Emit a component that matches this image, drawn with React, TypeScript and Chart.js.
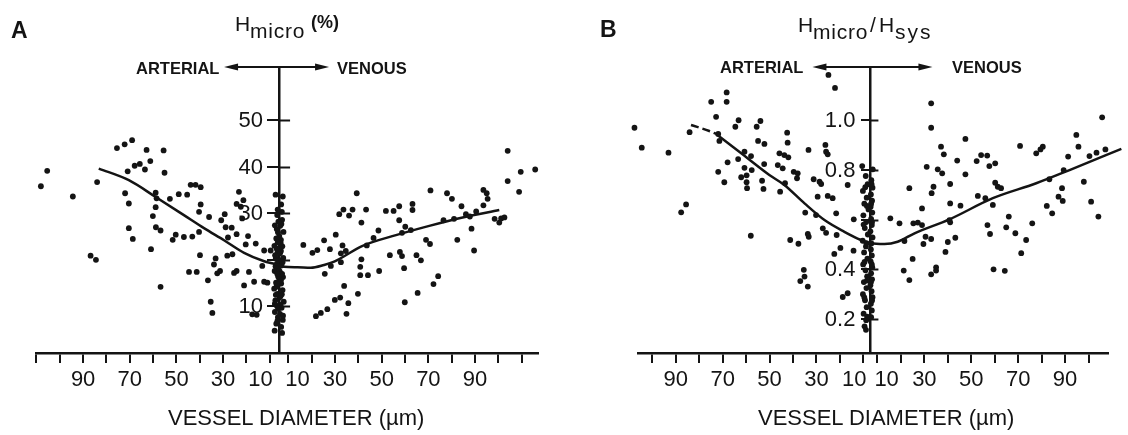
import React, { useEffect, useRef } from 'react';
import { Chart, registerables } from 'chart.js';

Chart.register(...registerables);

const INK = '#141414';
const FONT = '"Liberation Sans", Arial, Helvetica, sans-serif';

// ---------- Panel A : H_micro (%) vs vessel diameter (µm) ----------
const A_ARTERIAL: [number, number][] = [
  [105.4, 39.1], [108.1, 35.8], [94.4, 33.6], [84, 36.7], [86.8, 20.9], [84.5, 20.0], [75.5, 44.0], [72.2, 44.8],
  [69, 45.7], [62.8, 43.6], [55.5, 43.5], [70.9, 39.0], [67.9, 40.2], [65.7, 40.6], [63.5, 39.4], [61.2, 41.2],
  [55.1, 38.7], [72, 34.3], [70.4, 32.1], [70.4, 26.8], [68.7, 24.5], [58.9, 34.4], [58.5, 33.2], [58.9, 31.3],
  [60.1, 29.4], [58.8, 27.0], [56.8, 26.3], [60.9, 22.3], [56.8, 14.2], [52.8, 33.1], [49, 34.1], [45.4, 34.0],
  [50.3, 25.4], [51.6, 24.3], [46.8, 24.9], [44.6, 17.4], [43.9, 36.1], [41.8, 36.1], [39.6, 35.6], [39.6, 31.9],
  [40.3, 30.3], [36, 29.2], [43.2, 25.0], [40.3, 26.0], [39.9, 21.0], [33.2, 20.3], [33.9, 19.0], [41.3, 17.4],
  [36.5, 15.6], [35.3, 11.0], [34.6, 8.6], [32.5, 17.1], [31.3, 17.6], [30.8, 28.5], [29.3, 29.8], [28.9, 27.0],
  [26.3, 26.9], [27.9, 24.8], [24.2, 25.5], [23.2, 34.6], [21.3, 32.8], [24.2, 32.0], [22.4, 31.4], [21.8, 28.9],
  [28.2, 20.9], [26, 21.2], [25.3, 17.2], [24.2, 17.6], [21, 14.5], [18.9, 17.4], [19.3, 25.1], [20.3, 23.3],
  [16, 23.5], [12.4, 22.0], [9.6, 22.0], [13.2, 18.7], [16.7, 15.3], [12.4, 15.3], [11, 15.1], [17.5, 8.3],
  [15.6, 8.2],
];
const A_VENOUS: [number, number][] = [
  [16.4, 23.2], [20.3, 21.5], [22.4, 22.1], [25.3, 24.2], [27.8, 22.3], [25.6, 17.0], [21.8, 7.9], [23.9, 8.6],
  [26.7, 9.4], [39.3, 34.3], [33.6, 30.8], [31.8, 29.8], [36, 29.5], [37.5, 30.8], [43.3, 30.8], [41.3, 28.0],
  [30.3, 25.4], [33.2, 23.1], [34.6, 21.9], [32.5, 21.4], [28.2, 18.7], [32.5, 19.5], [43.6, 23.1], [46.5, 24.7],
  [48.6, 26.3], [41.3, 20.1], [40.8, 18.5], [40.8, 16.7], [44.1, 16.7], [48.9, 17.6], [33.9, 14.4], [32.2, 11.9],
  [29.9, 11.4], [35.7, 10.7], [34.9, 8.4], [39.8, 12.7], [51.8, 30.5], [55.1, 30.5], [57.5, 31.5], [57.5, 28.5],
  [60.1, 27.1], [62.5, 26.4], [58.7, 25.8], [63.2, 32.0], [63.2, 30.7], [53.5, 21.0], [57.8, 21.7], [58.7, 20.8],
  [59.6, 18.2], [64.9, 21.0], [66.8, 19.9], [65.4, 12.9], [59.9, 10.9], [70.9, 34.9], [69, 24.3], [70.7, 23.4],
  [72.2, 14.8], [74.2, 16.5], [78, 34.3], [80.1, 33.1], [84.2, 31.5], [76.5, 28.5], [81, 28.8], [82.4, 24.3],
  [86.1, 29.8], [87.8, 29.3], [88.5, 26.7], [89.6, 22.0], [90.5, 30.4], [93.6, 31.7], [93.6, 35.0], [95, 34.3],
  [95.4, 33.1], [98.4, 28.8], [100.4, 28.0], [101.2, 28.9], [102.6, 29.1], [104, 36.9], [104, 43.4], [109.6, 38.9],
  [115.8, 39.4], [108.9, 34.6],
];
// smallest vessels (capillary column at the centre)
const A_CAP_ART: [number, number][] = [
  [7.5, 34.0], [6.8, 29.6], [7.8, 27.4], [6.5, 25.9], [7.2, 24.6], [8.0, 23.0], [6.6, 21.7], [7.4, 20.3],
  [6.9, 19.2], [7.9, 17.6], [6.4, 16.4], [7.3, 15.1], [8.1, 13.8], [6.7, 12.7], [7.6, 11.3], [6.9, 10.1],
  [7.8, 8.8], [6.5, 7.7], [7.2, 6.3], [7.9, 4.8], [6.3, 28.2], [7.0, 22.4], [6.2, 18.3], [7.1, 14.2], [6.4, 9.5],
  [6.6, 30.8], [7.7, 21.0], [6.8, 17.0], [7.4, 12.5], [6.7, 6.9], [7.0, 26.6], [7.5, 18.6], [6.9, 14.8],
  [7.8, 10.6], [6.6, 23.7],
];
const A_CAP_VEN: [number, number][] = [
  [7.6, 33.6], [6.9, 31.9], [7.3, 28.6], [6.5, 27.3], [7.9, 26.0], [6.8, 24.3], [7.4, 22.9], [6.4, 21.4],
  [7.8, 20.4], [7.0, 18.8], [6.3, 17.5], [7.7, 16.3], [6.9, 14.9], [7.5, 13.5], [6.6, 12.2], [8.0, 11.0],
  [7.1, 9.7], [6.4, 8.4], [7.6, 7.1], [6.9, 5.6], [7.3, 4.3], [6.1, 25.1], [6.2, 19.9], [6.1, 15.8], [6.2, 11.9],
  [7.2, 30.3], [6.7, 23.6], [7.5, 19.5], [6.8, 15.6], [7.2, 12.6], [6.6, 10.3], [7.7, 8.0], [7.0, 27.7],
  [6.8, 21.9], [7.3, 17.0],
];
const A_FIT_ART: [number, number][] = [
  [83.3, 39.6], [70.4, 37.1], [58.9, 33.5], [46.8, 29.6], [38.2, 26.8], [29.6, 24.2], [21, 21.5], [12.4, 19.7], [6, 18.9],
];
const A_FIT_VEN: [number, number][] = [
  [8.1, 18.5], [13.9, 18.4], [19.6, 18.3], [25.3, 18.9], [29.6, 19.6], [41.8, 23.0], [56.1, 25.3], [70.4, 27.3],
  [84.7, 29.1], [100.4, 30.7],
];
const A_Y_TICKS = [10, 20, 30, 40, 50];
const A_Y_LABELS = ['10', '', '30', '40', '50'];
const A_X_TICKS = [10, 20, 30, 40, 50, 60, 70, 80, 90, 100, 110];

// ---------- Panel B : H_micro / H_sys vs vessel diameter (µm) ----------
const B_ARTERIAL: [number, number][] = [
  [107.6, 0.969], [104.5, 0.889], [93.1, 0.869], [87.7, 0.629], [85.6, 0.661], [84.1, 0.951], [74.9, 1.073], [68.3, 1.111],
  [68.3, 1.073], [72.8, 1.013], [71.9, 0.944], [71.4, 0.916], [63.2, 0.999], [64.6, 0.973], [53.9, 0.996], [55.5, 0.973],
  [54.9, 0.916], [52.2, 0.904], [67.9, 0.830], [63.4, 0.843], [71.9, 0.792], [69.3, 0.750], [60.7, 0.873], [57.9, 0.855],
  [60.7, 0.808], [57.6, 0.799], [62.1, 0.770], [59.8, 0.778], [59.8, 0.750], [59.6, 0.726], [52.3, 0.823], [53.2, 0.756],
  [52.6, 0.723], [58, 0.535], [24.9, 1.181], [22.1, 1.129], [42.5, 0.949], [42.3, 0.909], [45.8, 0.866], [43.7, 0.859],
  [42, 0.850], [46.5, 0.819], [44.4, 0.806], [39.7, 0.792], [38, 0.786], [38.3, 0.766], [33.4, 0.880], [26.2, 0.900],
  [25.9, 0.873], [25.2, 0.862], [31.2, 0.762], [28.7, 0.752], [28, 0.743], [43.4, 0.746], [45.5, 0.712], [29.5, 0.692],
  [25.2, 0.695], [23.1, 0.686], [16.7, 0.739], [34.8, 0.628], [30.2, 0.618], [27.3, 0.565], [25.9, 0.547], [21.6, 0.625],
  [21.4, 0.538], [33.7, 0.542], [33.3, 0.531], [41.2, 0.518], [37.7, 0.503], [19.8, 0.486], [14.2, 0.475], [22.4, 0.462],
  [35.4, 0.398], [35.1, 0.371], [36.9, 0.353], [33.7, 0.331], [18.8, 0.289], [16.7, 0.304], [14.1, 0.601],
];
const B_VENOUS: [number, number][] = [
  [32.9, 1.067], [32.9, 0.969], [47.5, 0.924], [37.1, 0.893], [38.3, 0.862], [31, 0.812], [35.7, 0.802], [37.6, 0.786],
  [44, 0.837], [47.5, 0.782], [52.3, 0.835], [54.2, 0.859], [56.8, 0.857], [57.7, 0.815], [60.2, 0.826], [70.8, 0.896],
  [77.7, 0.866], [79.5, 0.882], [80.5, 0.893], [91.3, 0.853], [23.6, 0.726], [33.9, 0.732], [33.1, 0.706], [41, 0.743],
  [29, 0.645], [25.3, 0.585], [27.2, 0.588], [29, 0.578], [41, 0.665], [45.4, 0.656], [40.7, 0.598], [41, 0.589],
  [52.8, 0.695], [56, 0.686], [59.2, 0.659], [60.2, 0.748], [61.3, 0.732], [62.7, 0.726], [56.9, 0.578], [58, 0.542],
  [66, 0.612], [64.9, 0.569], [68.8, 0.545], [76, 0.585], [73.4, 0.518], [71.3, 0.465], [30.5, 0.531], [32.9, 0.522],
  [29.6, 0.502], [40, 0.510], [43.2, 0.527], [39, 0.470], [25, 0.442], [23.6, 0.357], [32.9, 0.380], [35, 0.395],
  [35, 0.408], [59.5, 0.400], [64.3, 0.394], [83.3, 0.762], [88.7, 0.726], [87.2, 0.692], [89, 0.675], [82.2, 0.655],
  [84.5, 0.625], [15.5, 0.605], [19.4, 0.585], [21.5, 0.514], [21.2, 0.395], [105.8, 1.011], [94.8, 0.940], [95.7, 0.893],
  [100.4, 0.855], [103.4, 0.869], [107.2, 0.882], [110.4, 0.873], [111.9, 0.812], [112.8, 0.752], [89.4, 0.799], [98, 0.752],
  [101.1, 0.672], [104.2, 0.612],
];
const B_CAP_ART: [number, number][] = [
  [10.5, 0.815], [9.0, 0.775], [8.2, 0.742], [10.2, 0.715], [8.6, 0.688], [9.6, 0.664], [7.8, 0.641], [10.0, 0.617],
  [8.8, 0.590], [9.4, 0.566], [8.1, 0.540], [10.3, 0.515], [8.9, 0.492], [9.7, 0.468], [8.3, 0.443], [10.1, 0.420],
  [9.1, 0.396], [8.4, 0.372], [9.8, 0.349], [8.7, 0.325], [10.2, 0.300], [9.3, 0.276], [8.6, 0.248], [9.9, 0.222],
  [8.8, 0.196], [9.5, 0.171], [8.9, 0.157], [9.2, 0.730], [8.5, 0.655], [9.9, 0.580], [8.7, 0.505], [9.5, 0.430],
  [8.5, 0.355], [9.6, 0.287], [8.4, 0.210],
];
const B_CAP_VEN: [number, number][] = [
  [8.0, 0.802], [7.4, 0.758], [7.9, 0.728], [7.2, 0.701], [7.7, 0.676], [7.1, 0.652], [7.8, 0.628], [7.3, 0.603],
  [7.6, 0.578], [7.0, 0.553], [7.9, 0.528], [7.2, 0.480], [7.6, 0.456], [7.1, 0.432], [7.8, 0.408], [7.3, 0.384],
  [7.7, 0.360], [7.0, 0.336], [7.5, 0.312], [7.9, 0.288], [7.2, 0.262], [7.6, 0.235], [7.3, 0.208], [7.5, 0.742],
  [7.3, 0.664], [7.7, 0.590], [7.4, 0.504], [7.6, 0.420], [7.2, 0.348], [7.7, 0.275],
];
const B_FIT_DASHED: [number, number][] = [[83.5, 0.980], [75.7, 0.956], [72.8, 0.944]];
const B_FIT_ART: [number, number][] = [
  [72.8, 0.944], [60.7, 0.856], [50.1, 0.779], [43.7, 0.739], [35.1, 0.665], [26.6, 0.598], [18.1, 0.551], [11, 0.518], [7, 0.505],
];
const B_FIT_VEN: [number, number][] = [
  [13, 0.502], [18.6, 0.511], [25.8, 0.545], [40.7, 0.601], [59.2, 0.686], [77.7, 0.746], [91.9, 0.799], [114, 0.884],
];
const B_Y_TICKS = [0.2, 0.4, 0.6, 0.8, 1.0];
const B_Y_LABELS = ['0.2', '0.4', '', '0.8', '1.0'];
const B_X_TICKS = [10, 20, 30, 40, 50, 60, 70, 80, 90, 100];

const X_LABELED = [10, 30, 50, 70, 90];

type Pair = [number, number];
type PanelCfg = {
  arterial: Pair[]; venous: Pair[]; capArt: Pair[]; capVen: Pair[];
  fitArt: Pair[]; fitVen: Pair[]; fitDashed?: Pair[];
  off: number; xMin: number; xMax: number; yMin: number; yMax: number;
  yTicks: number[]; yLabels: string[]; xTicks: number[];
  pad: { left: number; right: number; top: number; bottom: number };
  yTickLen: number; yTickPad: number; arrowL: number; arrowR: number;
};

const art = (p: Pair[], off: number) => p.map(([d, v]) => ({ x: -(d - off), y: v }));
const ven = (p: Pair[], off: number) => p.map(([d, v]) => ({ x: d - off, y: v }));
const fitLine = (a: Pair[], v: Pair[], off: number) =>
  [...art(a, off), ...ven(v, off)].sort((p, q) => p.x - q.x);

const PANEL_A: PanelCfg = {
  arterial: A_ARTERIAL, venous: A_VENOUS, capArt: A_CAP_ART, capVen: A_CAP_VEN,
  fitArt: A_FIT_ART, fitVen: A_FIT_VEN,
  off: 6, xMin: -104.2, xMax: 111.0, yMin: 0, yMax: 61.4,
  yTicks: A_Y_TICKS, yLabels: A_Y_LABELS, xTicks: A_X_TICKS,
  pad: { left: 36, right: 22, top: 67, bottom: 37.6 },
  yTickLen: 11, yTickPad: 5, arrowL: 55, arrowR: 50,
};
const PANEL_B: PanelCfg = {
  arterial: B_ARTERIAL, venous: B_VENOUS, capArt: B_CAP_ART, capVen: B_CAP_VEN,
  fitArt: B_FIT_ART, fitVen: B_FIT_VEN, fitDashed: B_FIT_DASHED,
  off: 7, xMin: -99.1, xMax: 101.3, yMin: 0.064, yMax: 1.213,
  yTicks: B_Y_TICKS, yLabels: B_Y_LABELS, xTicks: B_X_TICKS,
  pad: { left: 78, right: 20, top: 67, bottom: 37.6 },
  yTickLen: 8, yTickPad: 7, arrowL: 58, arrowR: 62,
};

const decorPlugin = {
  id: 'decor',
  afterDraw(chart: any, _args: any, opts: any) {
    const { ctx, chartArea, scales } = chart;
    const cx = scales.x.getPixelForValue(0);
    const top = chartArea.top;
    ctx.save();
    ctx.strokeStyle = INK;
    ctx.fillStyle = INK;
    ctx.lineWidth = 2.2;
    const xl = cx - opts.arrowL;
    const xr = cx + opts.arrowR;
    ctx.beginPath();
    ctx.moveTo(xl + 6, top);
    ctx.lineTo(xr - 6, top);
    ctx.stroke();
    ctx.beginPath();
    ctx.moveTo(xl, top);
    ctx.lineTo(xl + 14, top - 3.6);
    ctx.lineTo(xl + 14, top + 3.6);
    ctx.closePath();
    ctx.fill();
    ctx.beginPath();
    ctx.moveTo(xr, top);
    ctx.lineTo(xr - 14, top - 3.6);
    ctx.lineTo(xr - 14, top + 3.6);
    ctx.closePath();
    ctx.fill();
    // right halves of the y tick marks (ticks cross the axis)
    ctx.lineWidth = 2;
    ctx.beginPath();
    for (const v of opts.yTicks) {
      const py = Math.round(scales.y.getPixelForValue(v)) + 0.5;
      ctx.moveTo(cx, py);
      ctx.lineTo(cx + opts.yTickLen, py);
    }
    ctx.stroke();
    // y tick labels, to the left of the centre axis
    ctx.font = `22px ${FONT}`;
    ctx.textAlign = 'right';
    ctx.textBaseline = 'middle';
    opts.yTicks.forEach((v: number, i: number) => {
      const label = opts.yLabels[i];
      if (!label) return;
      const py = scales.y.getPixelForValue(v);
      ctx.fillText(label, cx - opts.yTickLen - opts.yTickPad, py + 1);
    });
    ctx.restore();
  },
};

function PanelChart({ cfg, left, width }: { cfg: PanelCfg; left: number; width: number }) {
  const ref = useRef<HTMLCanvasElement>(null);
  useEffect(() => {
    const off = cfg.off;
    const dot = {
      type: 'scatter' as const,
      pointRadius: 2.9,
      pointBackgroundColor: INK,
      pointBorderWidth: 0,
      showLine: false,
      clip: false as any,
    };
    const line = {
      type: 'line' as const,
      borderColor: INK,
      borderWidth: 2.5,
      pointRadius: 0,
      fill: false,
      cubicInterpolationMode: 'monotone' as const,
      clip: false as any,
    };
    const datasets: any[] = [
      { ...line, data: fitLine(cfg.fitArt, cfg.fitVen, off) },
      { ...dot, data: art(cfg.arterial, off) },
      { ...dot, data: ven(cfg.venous, off) },
      { ...dot, data: art(cfg.capArt, off) },
      { ...dot, data: ven(cfg.capVen, off) },
    ];
    if (cfg.fitDashed) {
      datasets.push({ ...line, borderDash: [8, 4], data: art(cfg.fitDashed, off).sort((p, q) => p.x - q.x) });
    }
    const xTickValues = [
      ...cfg.xTicks.map((d) => -(d - off)),
      ...cfg.xTicks.map((d) => d - off),
    ].sort((a, b) => a - b);

    const chart = new Chart(ref.current as HTMLCanvasElement, {
      type: 'scatter',
      data: { datasets },
      options: {
        animation: false,
        responsive: false,
        maintainAspectRatio: false,
        devicePixelRatio: 1,
        events: [],
        layout: { padding: cfg.pad },
        plugins: {
          legend: { display: false },
          tooltip: { enabled: false },
          decor: {
            arrowL: cfg.arrowL, arrowR: cfg.arrowR, yTicks: cfg.yTicks, yLabels: cfg.yLabels,
            yTickLen: cfg.yTickLen, yTickPad: cfg.yTickPad,
          },
        } as any,
        scales: {
          x: {
            type: 'linear',
            position: 'bottom',
            min: cfg.xMin,
            max: cfg.xMax,
            afterBuildTicks: (scale: any) => {
              scale.ticks = xTickValues.map((v) => ({ value: v }));
            },
            ticks: {
              autoSkip: false,
              maxRotation: 0,
              minRotation: 0,
              padding: 4,
              color: INK,
              font: { family: FONT, size: 22 },
              callback: (value: any) => {
                const v = Number(value);
                const d = Math.round(Math.abs(v) + off);
                if (!X_LABELED.includes(d)) return '';
                if (d === 10) return v < 0 ? '10   ' : '   10';
                return String(d);
              },
            },
            grid: { drawOnChartArea: false, drawTicks: true, tickLength: 10, tickWidth: 2, color: INK, lineWidth: 2 },
            border: { display: true, color: INK, width: 2.5 },
          },
          y: {
            type: 'linear',
            position: { x: 0 } as any,
            min: cfg.yMin,
            max: cfg.yMax,
            afterBuildTicks: (scale: any) => {
              scale.ticks = cfg.yTicks.map((v) => ({ value: v }));
            },
            ticks: { display: false, autoSkip: false },
            grid: { drawOnChartArea: false, drawTicks: true, tickLength: cfg.yTickLen, tickWidth: 2, color: INK, lineWidth: 2 },
            border: { display: true, color: INK, width: 2.5 },
          },
        },
      },
      plugins: [decorPlugin as any],
    } as any);
    return () => chart.destroy();
  }, [cfg]);
  return (
    <canvas
      ref={ref}
      width={width}
      height={435}
      style={{ position: 'absolute', left, top: 0, width, height: 435, display: 'block' }}
    />
  );
}

function Txt({ x, base, size, bold, italic, spacing, children }: {
  x: number; base: number; size: number; bold?: boolean; italic?: boolean; spacing?: number; children: React.ReactNode;
}) {
  return (
    <div
      style={{
        position: 'absolute',
        left: x,
        top: base - 0.8465 * size,
        fontFamily: FONT,
        fontSize: size,
        lineHeight: `${size}px`,
        fontWeight: bold ? 'bold' : 'normal',
        fontStyle: italic ? 'italic' : 'normal',
        letterSpacing: spacing ? `${spacing}px` : undefined,
        whiteSpace: 'nowrap',
        color: INK,
      }}
    >
      {children}
    </div>
  );
}

export default function App() {
  return (
    <div style={{ position: 'fixed', left: 0, top: 0, width: 1128, height: 435, background: '#fff', overflow: 'hidden' }}>
      <PanelChart cfg={PANEL_A} left={0} width={560} />
      <PanelChart cfg={PANEL_B} left={560} width={568} />

      {/* Panel A texts */}
      <Txt x={11} base={38} size={23} bold>A</Txt>
      <Txt x={235} base={31} size={21}>H</Txt>
      <Txt x={250} base={38} size={21} spacing={0.8}>micro</Txt>
      <Txt x={311} base={28} size={18} bold>(%)</Txt>
      <Txt x={136} base={73.5} size={16.5} bold>ARTERIAL</Txt>
      <Txt x={337} base={73.5} size={16.5} bold>VENOUS</Txt>
      <Txt x={168} base={426} size={22}>VESSEL DIAMETER (µm)</Txt>

      {/* Panel B texts */}
      <Txt x={600} base={37} size={23} bold>B</Txt>
      <Txt x={798} base={32} size={21}>H</Txt>
      <Txt x={813} base={39} size={21} spacing={0.8}>micro</Txt>
      <Txt x={870} base={32} size={21}>/</Txt>
      <Txt x={879} base={32} size={21}>H</Txt>
      <Txt x={895} base={39} size={21} spacing={2}>sys</Txt>
      <Txt x={720} base={73} size={16.5} bold>ARTERIAL</Txt>
      <Txt x={952} base={73} size={16.5} bold>VENOUS</Txt>
      <Txt x={758} base={426} size={22}>VESSEL DIAMETER (µm)</Txt>
    </div>
  );
}
